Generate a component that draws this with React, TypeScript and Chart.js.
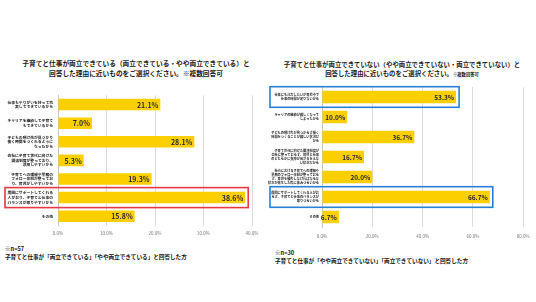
import React, { useEffect, useRef } from "react";
import { Chart, registerables } from "chart.js";
Chart.register(...registerables);

const leftCategories: (string | string[])[] = [
  ["仕事もやりがいを持って充", "実してできているから"],
  ["キャリアを継続して子育て", "もできているから"],
  ["子どもの預け先が見つかり", "働く時間をつくれるように", "なったから"],
  ["会社に子育て世代に向けた", "関連制度が整っており、", "活用しやすいから"],
  ["子育てへの理解や業務の", "フォロー体制が整ってお", "り、育児がしやすいから"],
  ["周囲にサポートしてくれる", "人がおり、子育てと仕事の", "バランスが取りやすいから"],
  "その他",
];
const leftValues = [21.1, 7.0, 28.1, 5.3, 19.3, 38.6, 15.8];
const leftTicks = [0, 10, 20, 30, 40];
const leftHighlight = [5];

const rightCategories: (string | string[])[] = [
  ["仕事にも注力したいが育児中で", "仕事の時間が足りないから"],
  ["キャリアの継続が難しくなって", "しまったから"],
  ["子どもの預け先が見つからず働く", "時間をつくることが難しい状況だ", "から"],
  ["子育て世代に向けた関連制度が", "会社に整っておらず、育児と仕事", "のどちらかに支障が出ざるをえな", "い状況だから"],
  ["社内における子育てへの理解や", "業務のフォロー体制が整っておら", "ず、育児を優先しなければならな", "い状況が発生した際に休みづらいから"],
  ["周囲にサポートしてくれる人がお", "らず、子育てと仕事のバランスが", "取りづらいから"],
  "その他",
];
const rightValues = [53.3, 10.0, 36.7, 16.7, 20.0, 66.7, 6.7];
const rightTicks = [0, 20, 40, 60, 80];
const rightHighlight = [0, 5];

const FONT = "'Noto Sans CJK JP', 'Noto Sans', sans-serif";
const YELLOW = "#fcd000";

type BarProps = {
  categories: (string | string[])[];
  values: number[];
  ticks: number[];
  highlight: number[];
  boxColor: string;
  boxLeft: number;
  boxHalf: number;
  width: number;
  height: number;
  padTop: number;
  padRight: number;
  yWidth: number;
  xHeight: number;
  xPad: number;
  yPad: number;
  catFont: number;
  valFont: number;
  barPct: number;
};

function BarChart(p: BarProps) {
  const ref = useRef<HTMLCanvasElement | null>(null);
  useEffect(() => {
    if (!ref.current) return;
    const plugin = {
      id: "decor",
      afterDraw(chart: any) {
        const ctx = chart.ctx;
        const meta = chart.getDatasetMeta(0);
        ctx.save();
        ctx.font = `bold ${p.valFont}px ${FONT}`;
        ctx.fillStyle = "#2a2a2a";
        ctx.textAlign = "right";
        ctx.textBaseline = "middle";
        meta.data.forEach((bar: any, i: number) => {
          const { x, y } = bar.getProps(["x", "y"], true);
          ctx.fillText(p.values[i].toFixed(1) + "%", x - 2, y + 0.5);
        });
        ctx.strokeStyle = p.boxColor;
        ctx.lineWidth = 1.6;
        p.highlight.forEach((i) => {
          const bar: any = meta.data[i];
          const { x, y } = bar.getProps(["x", "y"], true);
          ctx.strokeRect(p.boxLeft, y - p.boxHalf, x + 3 - p.boxLeft, p.boxHalf * 2);
        });
        ctx.restore();
      },
    };
    const chart = new Chart(ref.current, {
      type: "bar",
      data: {
        labels: p.categories,
        datasets: [
          {
            data: p.values,
            backgroundColor: YELLOW,
            borderWidth: 0,
            barPercentage: p.barPct,
            categoryPercentage: 1,
          },
        ],
      },
      options: {
        indexAxis: "y",
        animation: false,
        responsive: false,
        devicePixelRatio: 1,
        layout: { padding: { top: p.padTop, right: p.padRight, bottom: 0, left: 0 } },
        plugins: { legend: { display: false }, tooltip: { enabled: false }, title: { display: false } },
        scales: {
          x: {
            min: 0,
            max: p.ticks[p.ticks.length - 1],
            afterBuildTicks: (scale: any) => {
              scale.ticks = p.ticks.map((v) => ({ value: v }));
            },
            afterFit: (scale: any) => {
              scale.height = p.xHeight;
            },
            grid: { color: "#dcdcdc", lineWidth: 1, drawTicks: false },
            border: { display: false },
            ticks: {
              padding: p.xPad,
              color: "#777",
              font: { size: 4.5, family: FONT },
              callback: (v: any) => Number(v).toFixed(1) + "%",
            },
          },
          y: {
            afterFit: (scale: any) => {
              scale.width = p.yWidth;
            },
            grid: { display: false, drawTicks: false },
            border: { display: true, color: "#c4c4c4", width: 1 },
            ticks: {
              autoSkip: false,
              padding: p.yPad,
              color: "#1a1a1a",
              font: { size: p.catFont, family: FONT, weight: "bold", lineHeight: 1.2 },
            },
          },
        },
      },
      plugins: [plugin],
    } as any);
    return () => chart.destroy();
  }, []);
  return <canvas ref={ref} width={p.width} height={p.height} style={{ width: p.width, height: p.height, display: "block" }} />;
}

export default function App() {
  const titleStyle: React.CSSProperties = {
    position: "absolute",
    textAlign: "center",
    fontFamily: FONT,
    fontWeight: "bold",
    color: "#1a1a1a",
    whiteSpace: "nowrap",
  };
  const footStyle: React.CSSProperties = {
    position: "absolute",
    fontFamily: FONT,
    fontWeight: "bold",
    color: "#111",
    fontSize: 5.6,
    lineHeight: "8px",
    whiteSpace: "nowrap",
  };
  return (
    <div style={{ position: "absolute", left: 0, top: 0, width: 536, height: 302, background: "#fff", overflow: "hidden" }}>
      <div style={{ ...titleStyle, left: 0, width: 272, top: 59.3, fontSize: 6.7, lineHeight: "9.5px" }}>
        <div>子育てと仕事が両立できている（両立できている・やや両立できている）と</div>
        <div>回答した理由に近いものをご選択ください。※複数回答可</div>
      </div>
      <div style={{ ...titleStyle, left: 268, width: 268, top: 59.5, fontSize: 6.4, lineHeight: "9px" }}>
        <div>子育てと仕事が両立できていない（やや両立できていない・両立できていない）と</div>
        <div>
          回答した理由に近いものをご選択ください。<span style={{ fontSize: 4.3 }}>※複数回答可</span>
        </div>
      </div>
      <div style={{ position: "absolute", left: 0, top: 88 }}>
        <BarChart
          categories={leftCategories}
          values={leftValues}
          ticks={leftTicks}
          highlight={leftHighlight}
          boxColor="#e53a3f"
          boxLeft={5}
          boxHalf={10}
          width={268}
          height={150}
          padTop={6.5}
          padRight={16}
          yWidth={58}
          xHeight={12.5}
          xPad={4.8}
          yPad={5}
          catFont={3.8}
          valFont={7}
          barPct={0.62}
        />
      </div>
      <div style={{ position: "absolute", left: 268, top: 80 }}>
        <BarChart
          categories={rightCategories}
          values={rightValues}
          ticks={rightTicks}
          highlight={rightHighlight}
          boxColor="#2a7fd6"
          boxLeft={2}
          boxHalf={10.3}
          width={268}
          height={160}
          padTop={7}
          padRight={9}
          yWidth={54}
          xHeight={13}
          xPad={6.3}
          yPad={3}
          catFont={3.2}
          valFont={6.5}
          barPct={0.62}
        />
      </div>
      <div style={{ ...footStyle, left: 5, top: 245 }}>
        <div>※n=57</div>
        <div>子育てと仕事が「両立できている」「やや両立できている」と回答した方</div>
      </div>
      <div style={{ ...footStyle, left: 275, top: 249 }}>
        <div>※n=30</div>
        <div>子育てと仕事が「やや両立できていない」「両立できていない」と回答した方</div>
      </div>
    </div>
  );
}
